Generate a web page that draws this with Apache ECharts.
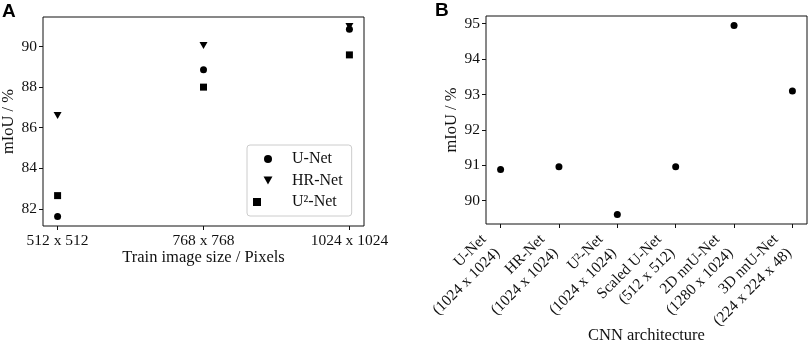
<!DOCTYPE html>
<html>
<head>
<meta charset="utf-8">
<script src="https://cdn.jsdelivr.net/npm/echarts@6/dist/echarts.min.js"></script>
<style>
  html, body { margin: 0; padding: 0; background: #fff; }
  #main { width: 809px; height: 345px; }
</style>
</head>
<body>
<div id="main"></div>
<script>
// panel A: mIoU vs training image size
const sizeLabels = ['512 x 512', '768 x 768', '1024 x 1024'];
const unetA = [81.62, 88.86, 90.86];
const hrnetA = [86.6, 90.05, 90.99];
const u2netA = [82.65, 88.0, 89.59];
const ticksA = [82, 84, 86, 88, 90];

// panel B: mIoU per CNN architecture
const archLabels = [
    'U-Net\n(1024 x 1024)',
    'HR-Net\n(1024 x 1024)',
    'U²-Net\n(1024 x 1024)',
    'Scaled U-Net\n(512 x 512)',
    '2D nnU-Net\n(1280 x 1024)',
    '3D nnU-Net\n(224 x 224 x 48)'
];
const archMiou = [90.88, 90.96, 89.61, 90.96, 94.95, 93.1];
const ticksB = [90, 91, 92, 93, 94, 95];

const serif = 'Liberation Serif';
const ink = '#111';

// matplotlib style 5% padding around the data
function pad(vals) {
    const lo = Math.min(...vals), hi = Math.max(...vals);
    const m = (hi - lo) * 0.05;
    return [lo - m, hi + m];
}
const toPts = arr => arr.map((v, i) => [i, v]);

const yA = pad(unetA.concat(hrnetA, u2netA));
const yB = pad(archMiou);
const xA = pad(sizeLabels.map((_, i) => i));
const xB = pad(archLabels.map((_, i) => i));

const tick = {show: true, inside: false, length: 4, lineStyle: {color: ink, width: 1}};
const lbl = {color: ink, fontFamily: serif, fontSize: 15.5};
const nameStyle = {fontFamily: serif, fontSize: 16.5, color: ink};
const noLine = {show: false, onZero: false};

const option = {
    animation: false,
    backgroundColor: '#fff',
    title: [
        {text: 'A', left: 2, top: 2, padding: 0, textStyle: {fontFamily: 'Liberation Sans', fontWeight: 'bold', fontSize: 19, color: '#000'}},
        {text: 'B', left: 435, top: 1, padding: 0, textStyle: {fontFamily: 'Liberation Sans', fontWeight: 'bold', fontSize: 19, color: '#000'}}
    ],
    grid: [
        {left: 43, top: 17, width: 321, height: 209, show: true, borderColor: ink, borderWidth: 1, outerBoundsMode: 'none'},
        {left: 486, top: 16, width: 321, height: 208, show: true, borderColor: ink, borderWidth: 1, outerBoundsMode: 'none'}
    ],
    legend: {
        orient: 'vertical',
        left: 247,
        top: 145,
        padding: [6, 9, 6, 6],
        borderColor: '#ccc',
        borderWidth: 1,
        borderRadius: 3,
        itemWidth: 30,
        itemHeight: 8,
        itemGap: 5.5,
        textStyle: {fontFamily: serif, fontSize: 16, color: ink, lineHeight: 16, padding: [0, 0, 0, 4]},
        data: ['U-Net', 'HR-Net', 'U²-Net']
    },
    xAxis: [
        {
            gridIndex: 0, type: 'value', min: xA[0], max: xA[1],
            splitLine: {show: false}, axisLine: noLine,
            axisTick: Object.assign({customValues: [0, 1, 2]}, tick),
            axisLabel: Object.assign({customValues: [0, 1, 2], margin: 7, formatter: v => sizeLabels[Math.round(v)]}, lbl),
            name: 'Train image size / Pixels', nameLocation: 'middle', nameGap: 23,
            nameMoveOverlap: false,
            nameTextStyle: nameStyle
        },
        {
            gridIndex: 1, type: 'value', min: xB[0], max: xB[1],
            splitLine: {show: false}, axisLine: noLine,
            axisTick: Object.assign({customValues: [0, 1, 2, 3, 4, 5]}, tick),
            axisLabel: Object.assign({
                customValues: [0, 1, 2, 3, 4, 5], rotate: 45, margin: 10,
                padding: [0, 14, 0, 0], lineHeight: 19,
                formatter: v => archLabels[Math.round(v)]
            }, lbl),
            name: 'CNN architecture', nameLocation: 'middle', nameGap: 103,
            nameMoveOverlap: false,
            nameTextStyle: nameStyle
        }
    ],
    yAxis: [
        {
            gridIndex: 0, type: 'value', min: yA[0], max: yA[1],
            splitLine: {show: false}, axisLine: noLine,
            axisTick: Object.assign({customValues: ticksA}, tick),
            axisLabel: Object.assign({customValues: ticksA, margin: 6}, lbl),
            name: 'mIoU / %', nameLocation: 'middle', nameGap: 26,
            nameMoveOverlap: false,
            nameTextStyle: nameStyle
        },
        {
            gridIndex: 1, type: 'value', min: yB[0], max: yB[1],
            splitLine: {show: false}, axisLine: noLine,
            axisTick: Object.assign({customValues: ticksB}, tick),
            axisLabel: Object.assign({customValues: ticksB, margin: 6}, lbl),
            name: 'mIoU / %', nameLocation: 'middle', nameGap: 26,
            nameMoveOverlap: false,
            nameTextStyle: nameStyle
        }
    ],
    series: [
        {
            name: 'U-Net', type: 'scatter', xAxisIndex: 0, yAxisIndex: 0,
            symbol: 'circle', symbolSize: 7, itemStyle: {color: '#000', opacity: 1},
            data: toPts(unetA)
        },
        {
            name: 'HR-Net', type: 'scatter', xAxisIndex: 0, yAxisIndex: 0,
            symbol: 'path://M0,0L10,0L5,9Z', symbolSize: [8, 7], itemStyle: {color: '#000', opacity: 1},
            data: toPts(hrnetA)
        },
        {
            name: 'U²-Net', type: 'scatter', xAxisIndex: 0, yAxisIndex: 0,
            symbol: 'square', symbolSize: 7, itemStyle: {color: '#000', opacity: 1},
            data: toPts(u2netA)
        },
        {
            name: 'arch', type: 'scatter', xAxisIndex: 1, yAxisIndex: 1,
            symbol: 'circle', symbolSize: 7, itemStyle: {color: '#000', opacity: 1},
            data: toPts(archMiou)
        }
    ]
};

const chart = echarts.init(document.getElementById('main'));
chart.setOption(option);
</script>
</body>
</html>
